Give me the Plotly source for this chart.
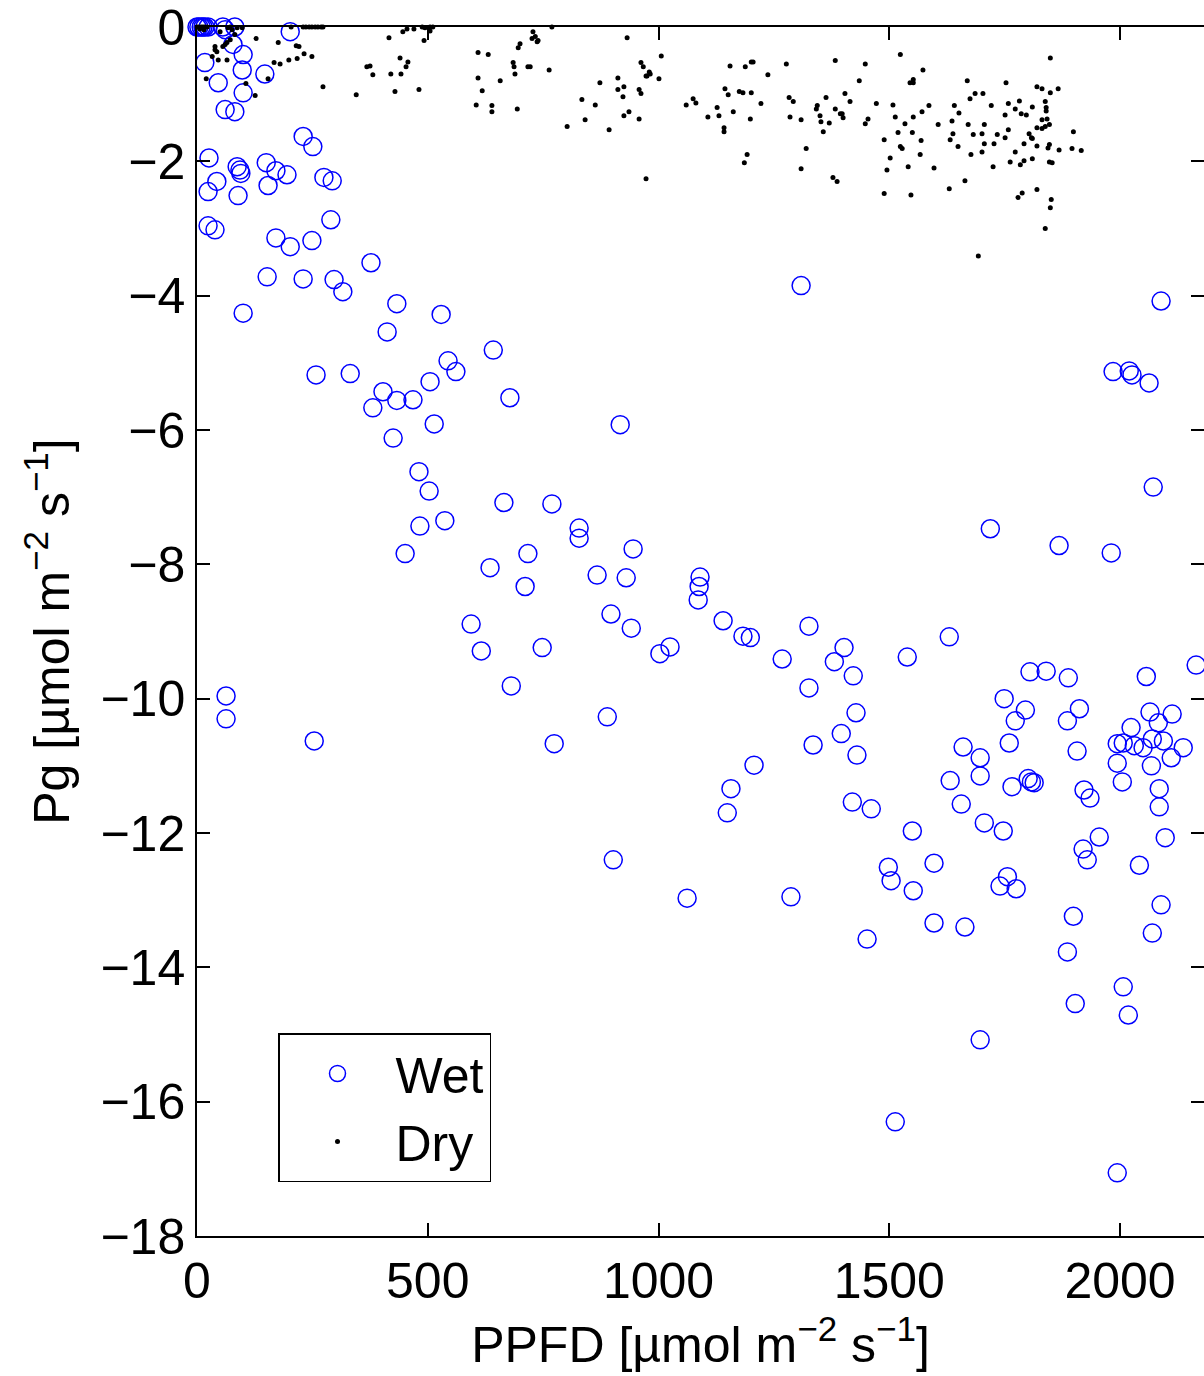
import plotly.graph_objects as go

# ---------------- data ----------------
wet_ppfd = [
    0, 4, 9, 13, 17, 24, 56, 82, 61, 202, 78, 100, 17, 98, 147, 46, 100, 61, 82,
    230, 251, 26, 87, 93, 95, 150, 171, 195, 275, 293, 43, 24, 89, 154, 24, 39, 290, 171, 202, 249,
    377, 152, 230, 297, 316, 433, 100, 529, 412, 642, 544, 561, 258, 332, 505, 403, 433, 468, 381, 678,
    514, 425, 917, 481, 503, 665, 769, 537, 483, 828, 828, 451, 717, 945, 635, 711, 867, 930, 594, 616,
    748, 897, 941, 1003, 1025, 681, 63, 63, 254, 774, 889,
    1090, 1088, 1086, 1140, 1183, 1199, 1326, 1630, 1268, 1402,
    1381, 1422, 1539, 1326, 1428, 1396, 1335, 1430, 1207, 1157,
    1149, 1749, 1795, 1773, 1805, 1840, 1888, 2057, 2165, 1912,
    1886, 1760, 1660, 1697, 1697, 1632, 1801, 1808, 1814, 1766,
    1907, 1656, 1706, 1747, 1922, 1935, 1550, 1420, 1461, 1498,
    1504, 1597, 1552, 1756, 1740, 1775, 1920, 1929, 1955, 2042,
    2098, 2089, 1899, 2070, 1597, 1664, 1452, 1062, 1287, 1886,
    2024, 2065, 2083, 2113, 1994, 2007, 2031, 2050, 2070, 2094, 2137, 2111, 2068, 1994, 2005, 2085, 2085,
    2007, 1903, 2018, 1697, 1513, 1994,
    1309, 2089, 1985, 2020, 2026, 2063, 2072, 1719, 1868, 1981,
    902,
]
wet_pg = [
    0, 0, 0, 0, 0, 0, 0, 0, -0.04, -0.07, -0.26, -0.41, -0.53, -0.64, -0.70, -0.83, -0.98, -1.23, -1.26,
    -1.63, -1.78, -1.95, -2.08, -2.13, -2.18, -2.02, -2.14, -2.20, -2.24, -2.29, -2.30, -2.45, -2.51, -2.36, -2.96, -3.02, -2.87, -3.14, -3.27, -3.18,
    -3.51, -3.72, -3.75, -3.76, -3.94, -4.12, -4.26, -4.28, -4.54, -4.81, -4.97, -5.13, -5.18, -5.16, -5.28, -5.43, -5.56, -5.55, -5.67, -5.52,
    -5.91, -6.12, -5.92, -6.62, -6.91, -7.08, -7.10, -7.35, -7.43, -7.46, -7.61, -7.84, -7.84, -7.77, -8.05, -8.33, -8.16, -8.20, -8.89, -9.29,
    -9.24, -8.74, -8.95, -9.33, -9.23, -9.81, -9.96, -10.30, -10.63, -10.67, -10.27,
    -8.19, -8.33, -8.53, -8.84, -9.07, -9.09, -8.92, -9.08, -9.41, -9.24,
    -9.45, -9.66, -9.38, -9.84, -10.21, -10.52, -10.69, -10.84, -10.99, -11.34,
    -11.70, -10.00, -10.17, -10.33, -9.60, -9.59, -9.69, -9.67, -9.50, -10.15,
    -10.33, -10.66, -10.72, -10.88, -11.15, -11.22, -11.19, -11.24, -11.25, -11.31,
    -10.78, -11.57, -11.85, -11.97, -11.36, -11.48, -11.97, -11.54, -11.64, -12.51,
    -12.71, -12.45, -12.86, -12.65, -12.79, -12.83, -12.24, -12.40, -12.06, -12.48,
    -12.07, -13.07, -13.24, -13.49, -13.34, -13.40, -13.58, -12.97, -12.95, -13.77,
    -10.43, -10.20, -10.36, -10.23, -10.67, -10.66, -10.70, -10.73, -10.60, -10.63, -10.73, -10.88, -11.00, -10.96, -11.24, -11.34, -11.61,
    -14.29, -14.54, -14.71, -15.08, -16.30, -17.06,
    -3.85, -4.08, -5.13, -5.12, -5.18, -5.30, -6.85, -7.47, -7.72, -7.83,
    -12.40,
]

dry_ppfd = [
    0, 4, 9, 13, 17, 22, 6, 15,
    50, 67, 76, 72, 87, 98, 82, 72, 65, 56, 61, 39, 39, 43, 33, 46, 65, 20, 106, 126,
    128, 176, 154, 167, 180, 199, 217, 232, 249, 215, 221, 204,
    230, 236, 243, 249, 256, 262, 269, 273,
    273, 345, 368, 375, 381, 416, 446, 455, 470, 488, 494, 505, 511, 505, 492, 440, 457, 453, 420, 442, 429, 481,
    609, 631, 609, 618, 605, 639, 639, 657, 694, 685, 687, 689, 717, 700, 696, 728, 726, 737, 733, 739, 769, 722, 763,
    932, 1006, 962, 967, 980, 975, 982, 973, 1001, 912, 873, 912, 925, 923, 958, 962, 834, 863, 936, 925, 958, 841, 802, 893, 973,
    1060, 1075, 1081, 1107, 1127, 1131, 1142, 1142, 1144, 1151, 1155, 1162, 1175, 1183, 1188, 1201, 1205, 1201, 1199, 1192, 1186, 1222, 1237,
    1277, 1283, 1292, 1285, 1309, 1320, 1309, 1342, 1344, 1350, 1352, 1357, 1363, 1370, 1383, 1383, 1394, 1398, 1400, 1404,
    1415, 1378, 1387, 1435, 1448, 1448, 1454, 1472,
    1524, 1573, 1545, 1552, 1552, 1508, 1513, 1534, 1552, 1571, 1586, 1489, 1519, 1550, 1524, 1528, 1569, 1502, 1495, 1541,
    1567, 1597, 1606, 1489, 1547, 1630, 1664, 1693,
    1641, 1651, 1636, 1638, 1632, 1649, 1669, 1675, 1686, 1703, 1671, 1682, 1701, 1706, 1706, 1677, 1701, 1721, 1727, 1725,
    1734, 1751, 1758, 1751, 1753, 1758,
    1773, 1782, 1786, 1797, 1773, 1762, 1784, 1792, 1792, 1803, 1808, 1810, 1810, 1820, 1831, 1838, 1840, 1840, 1831, 1842,
    1820, 1831, 1838, 1847, 1820, 1810, 1844, 1847, 1847, 1853, 1868, 1849, 1866, 1849, 1820, 1779, 1788, 1851, 1849, 1838,
    1896, 1899, 1916,
]
dry_pg = [
    0, 0, 0, 0, 0, 0, -0.03, -0.04,
    -0.07, -0.01, -0.04, 0, -0.01, -0.01, -0.11, -0.19, -0.23, -0.29, -0.26, -0.29, -0.34, -0.37, -0.44, -0.49, -0.49, -0.77, -0.84, -1.02,
    -0.17, -0.23, -0.77, -0.53, -0.55, -0.49, -0.47, -0.40, -0.44, -0.28, -0.29, 0,
    0, 0, 0, 0, 0, 0, 0, 0,
    -0.89, -1.01, -0.59, -0.58, -0.71, -0.16, -0.07, -0.03, -0.03, 0, -0.01, 0, 0, -0.06, -0.20, -0.46, -0.52, -0.59, -0.70, -0.70, -0.96, -0.93,
    -0.38, -0.41, -0.76, -0.95, -1.16, -1.17, -1.26, -0.80, -1.22, -0.53, -0.59, -0.70, -0.59, -0.25, -0.31, -0.07, -0.17, -0.22, -0.14, -0.20, 0, -0.59, -0.64,
    -0.16, -0.43, -0.53, -0.59, -0.67, -0.73, -0.70, -0.73, -0.77, -0.76, -0.83, -0.93, -0.89, -1.04, -0.93, -0.99, -1.08, -1.16, -1.26, -1.32, -1.37, -1.38, -1.48, -1.53, -2.26,
    -1.16, -1.07, -1.13, -1.34, -1.20, -1.32, -1.50, -1.56, -0.92, -1.01, -0.58, -1.26, -0.96, -0.98, -0.59, -0.52, -0.52, -0.98, -1.37, -1.90, -2.02, -1.14, -0.71,
    -0.55, -1.05, -1.11, -1.34, -1.38, -1.81, -2.11, -1.22, -1.17, -1.32, -1.41, -1.56, -1.05, -1.43, -0.50, -1.22, -1.29, -1.29, -1.35, -0.99,
    -1.11, -2.24, -2.30, -0.80, -0.55, -1.44, -1.37, -1.14,
    -0.41, -0.64, -0.83, -0.78, -0.83, -1.16, -1.34, -1.44, -1.34, -1.26, -1.17, -1.68, -1.57, -1.57, -1.78, -1.81, -1.69, -1.95, -2.13, -2.08,
    -1.90, -2.10, -1.45, -2.48, -2.50, -2.41, -2.29, -3.41,
    -1.17, -1.28, -1.40, -1.59, -1.68, -1.78, -0.80, -1.07, -0.99, -0.99, -1.45, -1.60, -1.59, -1.45, -1.74, -1.90, -1.86, -1.17, -1.74, -2.08,
    -1.60, -1.65, -1.53, -1.31, -0.83, -1.14,
    -1.22, -1.10, -1.29, -1.31, -1.86, -2.01, -2.05, -1.99, -1.74, -1.59, -1.65, -1.66, -1.19, -0.89, -0.92, -1.11, -1.20, -1.25, -1.38, -1.37,
    -1.50, -1.51, -1.48, -1.45, -1.77, -1.96, -1.80, -1.75, -2.01, -2.02, -1.83, -0.98, -0.92, -0.46, -2.42, -2.54, -2.47, -2.57, -2.69, -3.00,
    -1.81, -1.56, -1.84,
]

x_ticks = [0, 500, 1000, 1500, 2000]
y_ticks = [0, -2, -4, -6, -8, -10, -12, -14, -16, -18]

assert len(wet_ppfd) == len(wet_pg)
assert len(dry_ppfd) == len(dry_pg)

FONT = "Liberation Sans, Arial, Helvetica, sans-serif"

fig = go.Figure()
fig.add_trace(go.Scatter(
    x=wet_ppfd, y=wet_pg, mode="markers", name="Wet",
    marker=dict(symbol="circle-open", size=18, color="#0000ff", line=dict(width=1.5, color="#0000ff")),
    cliponaxis=False,
))
fig.add_trace(go.Scatter(
    x=dry_ppfd, y=dry_pg, mode="markers", name="Dry",
    marker=dict(symbol="circle", size=5, color="black"),
    cliponaxis=False,
))

axis_common = dict(
    showgrid=False, zeroline=False, showline=True, linecolor="black", linewidth=1.5,
    mirror="ticks", ticks="inside", ticklen=13, tickwidth=1.5, tickcolor="black",
    tickfont=dict(family=FONT, size=50, color="black"),
    automargin=False, ticklabeloverflow="allow",
)

fig.update_layout(
    width=1204, height=1376,
    margin=dict(l=197, r=0, t=27, b=140),
    paper_bgcolor="white", plot_bgcolor="white",
    font=dict(family=FONT, size=50, color="black"),
    xaxis=dict(range=[0, 2182], tickmode="array", tickvals=x_ticks,
               ticktext=[str(v) for v in x_ticks],
               title=dict(text="PPFD [µmol m<sup>−2</sup> s<sup>−1</sup>]",
                          font=dict(family=FONT, size=50)),
               **axis_common),
    yaxis=dict(range=[-18, 0], tickmode="array", tickvals=y_ticks,
               ticktext=["0" if v == 0 else "−" + str(-v) for v in y_ticks],
               title=dict(text="Pg [µmol m<sup>−2</sup> s<sup>−1</sup>]",
                          font=dict(family=FONT, size=50)),
               **axis_common),
    legend=dict(
        x=(278 - 197) / 1007, y=(1236 - 1033) / 1209, xanchor="left", yanchor="top",
        bgcolor="white", bordercolor="black", borderwidth=1.5,
        font=dict(family=FONT, size=50, color="black"),
        itemwidth=106,
    ),
    showlegend=True,
)

fig.write_html(
    "out.html",
    config={"displayModeBar": False},
    post_script="document.body.style.margin='0';document.body.style.overflow='hidden';",
)
